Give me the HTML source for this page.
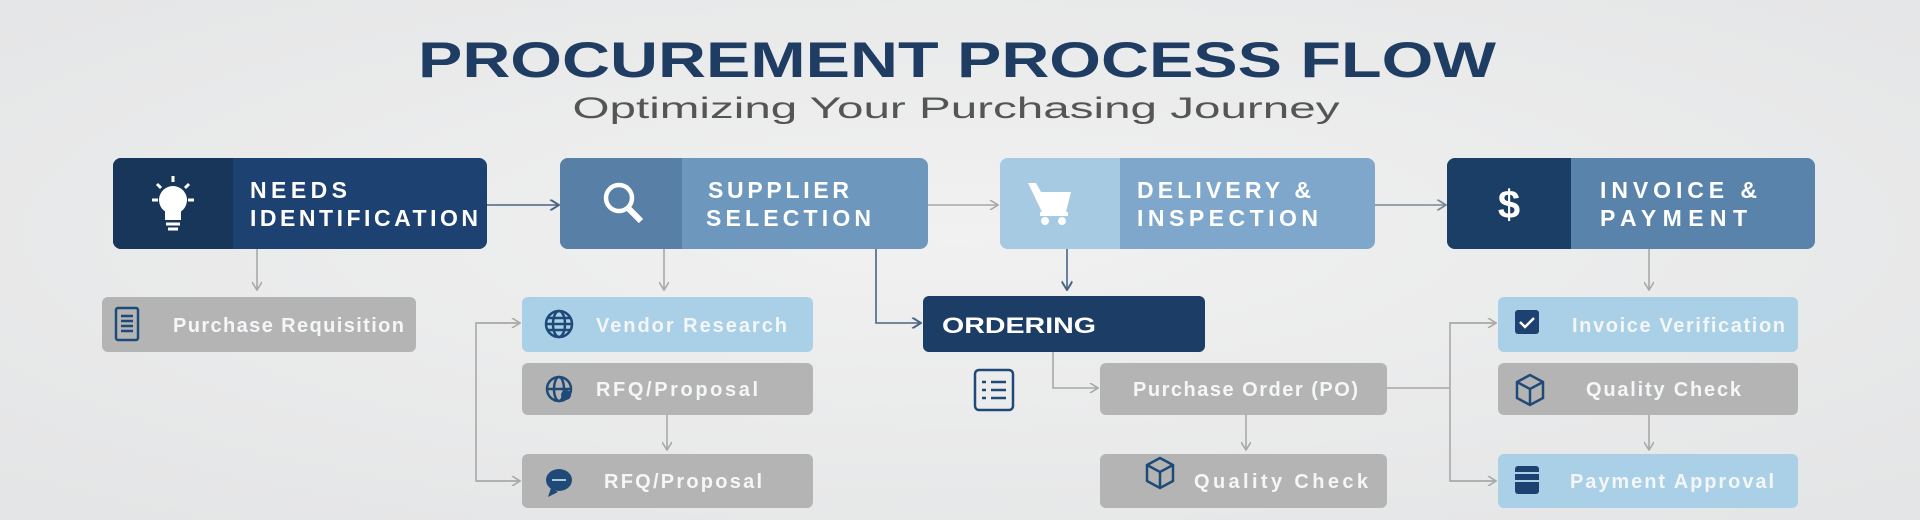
<!DOCTYPE html>
<html><head><meta charset="utf-8"><style>
html,body{margin:0;padding:0;background:#ebebeb;}
svg{display:block}
text{font-family:"Liberation Sans",Arial,sans-serif}
</style></head><body>
<svg width="1920" height="520" viewBox="0 0 1920 520" xmlns="http://www.w3.org/2000/svg">
<defs>
<radialGradient id="bg" cx="50%" cy="45%" r="70%"><stop offset="0" stop-color="#f1f1f1"/><stop offset="1" stop-color="#e4e5e6"/></radialGradient>
<marker id="ag" viewBox="0 0 10 10" refX="9" refY="5" markerWidth="10" markerHeight="10" orient="auto" markerUnits="userSpaceOnUse"><path d="M1 0L9 5L1 10" fill="none" stroke="#a8a8a8" stroke-width="1.6"/></marker>
<marker id="ad" viewBox="0 0 10 10" refX="9" refY="5" markerWidth="11" markerHeight="11" orient="auto" markerUnits="userSpaceOnUse"><path d="M1 0L9 5L1 10" fill="none" stroke="#4a6584" stroke-width="1.8"/></marker>
<marker id="am" viewBox="0 0 10 10" refX="9" refY="5" markerWidth="11" markerHeight="11" orient="auto" markerUnits="userSpaceOnUse"><path d="M1 0L9 5L1 10" fill="none" stroke="#7a8896" stroke-width="1.6"/></marker>
</defs>
<rect width="1920" height="520" fill="url(#bg)"/>

<text x="957" y="77" text-anchor="middle" font-size="50" font-weight="bold" fill="#1f3c63" textLength="1078" lengthAdjust="spacingAndGlyphs">PROCUREMENT PROCESS FLOW</text>
<text x="956" y="118" text-anchor="middle" font-size="30" fill="#555" textLength="767" lengthAdjust="spacingAndGlyphs">Optimizing Your Purchasing Journey</text>

<g>
<rect x="113" y="158" width="374" height="91" rx="8" fill="#1d4170"/>
<path d="M121 158H233V249H121A8 8 0 0 1 113 241V166A8 8 0 0 1 121 158Z" fill="#173659"/>
<rect x="560" y="158" width="368" height="91" rx="8" fill="#6e97bd"/>
<path d="M568 158H682V249H568A8 8 0 0 1 560 241V166A8 8 0 0 1 568 158Z" fill="#587fa6"/>
<rect x="1000" y="158" width="375" height="91" rx="8" fill="#7ea7cb"/>
<path d="M1008 158H1120V249H1008A8 8 0 0 1 1000 241V166A8 8 0 0 1 1008 158Z" fill="#a6cae1"/>
<rect x="1447" y="158" width="368" height="91" rx="8" fill="#5a83ab"/>
<path d="M1455 158H1571V249H1455A8 8 0 0 1 1447 241V166A8 8 0 0 1 1455 158Z" fill="#1a3e66"/>
</g>
<g font-size="23" font-weight="bold" fill="#fff" lengthAdjust="spacingAndGlyphs">
<text x="250" y="198" textLength="97">NEEDS</text><text x="250" y="226" textLength="228">IDENTIFICATION</text>
<text x="708" y="198" textLength="141">SUPPLIER</text><text x="706" y="226" textLength="165">SELECTION</text>
<text x="1137" y="198" textLength="174">DELIVERY &amp;</text><text x="1137" y="226" textLength="181">INSPECTION</text>
<text x="1600" y="198" textLength="157">INVOICE &amp;</text><text x="1600" y="226" textLength="147">PAYMENT</text>
</g>
<g fill="#fff" stroke="#fff">
<circle cx="173" cy="200" r="14" stroke="none"/><rect x="165" y="210" width="16" height="10" stroke="none"/>
<line x1="166" y1="224" x2="180" y2="224" stroke-width="3"/><line x1="168" y1="229" x2="178" y2="229" stroke-width="3"/>
<g stroke-width="3"><line x1="173" y1="176" x2="173" y2="182"/><line x1="152" y1="200" x2="158" y2="200"/><line x1="188" y1="200" x2="194" y2="200"/><line x1="157" y1="184" x2="161" y2="188"/><line x1="189" y1="184" x2="185" y2="188"/></g>
</g>
<g fill="none" stroke="#fff" stroke-width="4.5"><circle cx="619" cy="198" r="13"/><line x1="628" y1="208" x2="641" y2="221" stroke-width="6"/></g>
<g fill="#fff"><path d="M1028 183h8l5 9h30l-5 20h-24z"/><rect x="1040" y="212" width="28" height="4"/><circle cx="1045" cy="221" r="4"/><circle cx="1062" cy="221" r="4"/></g>
<text x="1509" y="218" text-anchor="middle" font-size="40" font-weight="bold" fill="#fff">$</text>

<g>
<rect x="102" y="297" width="314" height="55" rx="6" fill="#b4b4b4"/>
<rect x="522" y="297" width="291" height="55" rx="6" fill="#a9d0e6"/>
<rect x="522" y="363" width="291" height="52" rx="6" fill="#b4b4b4"/>
<rect x="522" y="454" width="291" height="54" rx="6" fill="#b4b4b4"/>
<rect x="923" y="296" width="282" height="56" rx="6" fill="#1c3d66"/>
<rect x="1100" y="363" width="287" height="52" rx="6" fill="#b4b4b4"/>
<rect x="1100" y="454" width="287" height="54" rx="6" fill="#b4b4b4"/>
<rect x="1498" y="297" width="300" height="55" rx="6" fill="#a9d0e6"/>
<rect x="1498" y="363" width="300" height="52" rx="6" fill="#b4b4b4"/>
<rect x="1498" y="454" width="300" height="54" rx="6" fill="#a9d0e6"/>
</g>
<g font-size="20" font-weight="bold" fill="#f4f6f8" lengthAdjust="spacingAndGlyphs">
<text x="173" y="332" textLength="231">Purchase Requisition</text>
<text x="596" y="332" textLength="191">Vendor Research</text>
<text x="596" y="396" textLength="162">RFQ/Proposal</text>
<text x="604" y="488" textLength="158">RFQ/Proposal</text>
<text x="1133" y="396" textLength="225">Purchase Order (PO)</text>
<text x="1194" y="488" textLength="174">Quality Check</text>
<text x="1572" y="332" textLength="213">Invoice Verification</text>
<text x="1586" y="396" textLength="155">Quality Check</text>
<text x="1570" y="488" textLength="204">Payment Approval</text>
</g>
<text x="942" y="333" font-size="22" font-weight="bold" fill="#fff" textLength="154" lengthAdjust="spacingAndGlyphs">ORDERING</text>

<g fill="none" stroke="#1f4a78" stroke-width="2.5">
<rect x="116" y="308" width="22" height="32" rx="2"/><line x1="121" y1="316" x2="133" y2="316"/><line x1="121" y1="321" x2="133" y2="321"/><line x1="121" y1="326" x2="133" y2="326"/><line x1="121" y1="331" x2="133" y2="331"/>
<circle cx="559" cy="324" r="13"/><ellipse cx="559" cy="324" rx="6" ry="13"/><line x1="546" y1="324" x2="572" y2="324"/><line x1="548" y1="318" x2="570" y2="318"/><line x1="548" y1="330" x2="570" y2="330"/>
<circle cx="559" cy="389" r="12"/><ellipse cx="559" cy="389" rx="5" ry="12"/><line x1="547" y1="389" x2="571" y2="389"/>
<rect x="975" y="370" width="38" height="40" rx="4"/><line x1="982" y1="382" x2="986" y2="382"/><line x1="991" y1="382" x2="1006" y2="382"/><line x1="982" y1="390" x2="986" y2="390"/><line x1="991" y1="390" x2="1006" y2="390"/><line x1="982" y1="398" x2="986" y2="398"/><line x1="991" y1="398" x2="1006" y2="398"/>
<path d="M1147 465l13-7 13 7v16l-13 7-13-7z"/><path d="M1147 465l13 7 13-7M1160 472v16"/>
<path d="M1517 382l13-7 13 7v16l-13 7-13-7z"/><path d="M1517 382l13 7 13-7M1530 389v16"/>
</g>
<g fill="#1f4a78"><circle cx="566" cy="395" r="5"/><ellipse cx="559" cy="480" rx="13" ry="11"/><path d="M551 488l-3 9 10-5z"/></g>
<line x1="552" y1="480" x2="566" y2="480" stroke="#a9c6dc" stroke-width="2"/>
<rect x="1515" y="310" width="24" height="24" rx="3" fill="#1d4170"/>
<path d="M1520 322l5 5 9-9" fill="none" stroke="#fff" stroke-width="2.5"/>
<rect x="1515" y="466" width="24" height="28" rx="3" fill="#1d4170"/>
<g stroke="#a9d0e6" stroke-width="2"><line x1="1515" y1="473" x2="1539" y2="473"/><line x1="1515" y1="481" x2="1539" y2="481"/></g>

<g fill="none" stroke-width="1.6">
<line x1="487" y1="205" x2="559" y2="205" stroke="#4a6584" marker-end="url(#ad)"/>
<line x1="928" y1="205" x2="998" y2="205" stroke="#a8a8a8" marker-end="url(#ag)"/>
<line x1="1375" y1="205" x2="1446" y2="205" stroke="#7a8896" marker-end="url(#am)"/>
<line x1="257" y1="249" x2="257" y2="290" stroke="#a8a8a8" marker-end="url(#ag)"/>
<line x1="664" y1="249" x2="664" y2="290" stroke="#a8a8a8" marker-end="url(#ag)"/>
<path d="M876 249V323H921" stroke="#4a6584" marker-end="url(#ad)"/>
<line x1="1067" y1="249" x2="1067" y2="290" stroke="#4a6584" marker-end="url(#ad)"/>
<path d="M520 323H476V481H520" stroke="#a8a8a8"/>
<line x1="476" y1="323" x2="520" y2="323" stroke="#a8a8a8" marker-end="url(#ag)"/>
<line x1="476" y1="481" x2="520" y2="481" stroke="#a8a8a8" marker-end="url(#ag)"/>
<line x1="667" y1="415" x2="667" y2="450" stroke="#a8a8a8" marker-end="url(#ag)"/>
<path d="M1053 352V388H1098" stroke="#a8a8a8" marker-end="url(#ag)"/>
<line x1="1246" y1="415" x2="1246" y2="450" stroke="#a8a8a8" marker-end="url(#ag)"/>
<path d="M1387 388H1450" stroke="#a8a8a8"/>
<path d="M1496 323H1450V481H1496" stroke="#a8a8a8"/>
<line x1="1450" y1="323" x2="1496" y2="323" stroke="#a8a8a8" marker-end="url(#ag)"/>
<line x1="1450" y1="481" x2="1496" y2="481" stroke="#a8a8a8" marker-end="url(#ag)"/>
<line x1="1649" y1="249" x2="1649" y2="290" stroke="#a8a8a8" marker-end="url(#ag)"/>
<line x1="1649" y1="415" x2="1649" y2="450" stroke="#a8a8a8" marker-end="url(#ag)"/>
</g>
</svg>
</body></html>
